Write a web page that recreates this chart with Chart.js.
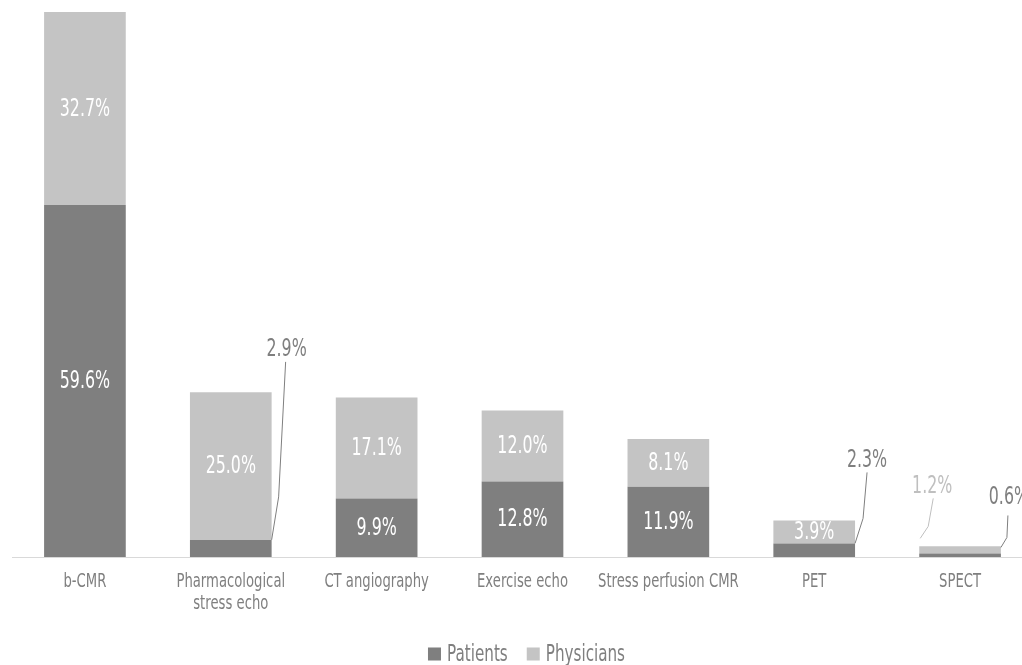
<!DOCTYPE html>
<html>
<head>
<meta charset="utf-8">
<script src="https://cdn.jsdelivr.net/npm/chart.js@4"></script>
<style>
  html, body { margin: 0; padding: 0; background: #fff; overflow: hidden; }
  #wrap { width: 1040px; height: 665px; }
</style>
</head>
<body>
<div id="wrap"><canvas id="chart"></canvas></div>
<script>
const categories = ['b-CMR', ['Pharmacological', 'stress echo'], 'CT angiography', 'Exercise echo', 'Stress perfusion CMR', 'PET', 'SPECT'];
const patients = [59.6, 2.9, 9.9, 12.8, 11.9, 2.3, 0.6];
const physicians = [32.7, 25.0, 17.1, 12.0, 8.1, 3.9, 1.2];

const FONT = "'DejaVu Sans', sans-serif";
const NARROW = 0.66;   // no condensed face installed, so squeeze text horizontally
const DARK = '#7f7f7f';
const LIGHT = '#c4c4c4';

// labels that sit outside the bar, with a leader line (offsets from the segment's top corner)
const callouts = [
  { ds: 0, i: 1, side: 'right', pts: [[0, 0], [7, -43], [14, -178]], text: [15, -190], color: DARK },
  { ds: 0, i: 5, side: 'right', pts: [[0, 0], [8, -25], [12, -71]], text: [12, -83], color: DARK },
  { ds: 1, i: 6, side: 'left', pts: [[1, -8], [9, -20], [14, -48]], text: [13, -60], color: '#bfbfbf' },
  { ds: 0, i: 6, side: 'right', pts: [[0, -6], [6, -16], [7, -38]], text: [8, -56], color: DARK }
];

const totals = patients.map((p, i) => p + physicians[i]);

function narrowText(ctx, txt, x, y) {
  ctx.save();
  ctx.translate(x, y);
  ctx.scale(NARROW, 1);
  ctx.fillText(txt, 0, 0);
  ctx.restore();
}

const valueLabels = {
  id: 'valueLabels',
  afterDatasetsDraw(chart) {
    const ctx = chart.ctx;
    ctx.save();
    ctx.font = '24px ' + FONT;
    ctx.textAlign = 'center';
    ctx.textBaseline = 'middle';
    chart.data.datasets.forEach((ds, d) => {
      chart.getDatasetMeta(d).data.forEach((bar, i) => {
        const p = bar.getProps(['x', 'y', 'base', 'width'], true);
        const txt = ds.data[i].toFixed(1) + '%';
        const c = callouts.find(o => o.ds === d && o.i === i);
        if (c) {
          const ax = c.side === 'right' ? p.x + p.width / 2 : p.x - p.width / 2;
          const ay = p.y;
          ctx.strokeStyle = c.color;
          ctx.lineWidth = 1;
          ctx.beginPath();
          c.pts.forEach((pt, k) => {
            if (k === 0) ctx.moveTo(ax + pt[0], ay + pt[1]);
            else ctx.lineTo(ax + pt[0], ay + pt[1]);
          });
          ctx.stroke();
          ctx.fillStyle = c.color;
          narrowText(ctx, txt, ax + c.text[0], ay + c.text[1]);
        } else {
          ctx.fillStyle = '#ffffff';
          narrowText(ctx, txt, p.x, (p.y + p.base) / 2 + 1);
        }
      });
    });
    ctx.restore();
  }
};

// category labels and legend, drawn with the squeezed font
const axisAndLegend = {
  id: 'axisAndLegend',
  afterDraw(chart) {
    const ctx = chart.ctx;
    const xs = chart.scales.x;
    const area = chart.chartArea;
    ctx.save();
    ctx.fillStyle = DARK;
    ctx.textAlign = 'center';
    ctx.textBaseline = 'middle';
    ctx.font = '20px ' + FONT;
    chart.data.labels.forEach((lab, i) => {
      const lines = Array.isArray(lab) ? lab : [lab];
      const x = xs.getPixelForValue(i);
      lines.forEach((line, k) => narrowText(ctx, line, x, area.bottom + 25 + k * 22));
    });

    // legend
    ctx.font = '23px ' + FONT;
    const box = 13, gap = 6, spacing = 19;
    const items = chart.data.datasets.map(ds => ({
      text: ds.label,
      color: ds.backgroundColor,
      w: ctx.measureText(ds.label).width * NARROW
    }));
    const total = items.reduce((s, it) => s + box + gap + it.w, 0) + spacing * (items.length - 1);
    let x = (area.left + area.right) / 2 + 4 - total / 2;
    const y = 654;
    ctx.textAlign = 'left';
    items.forEach(it => {
      ctx.fillStyle = it.color;
      ctx.fillRect(x, y - box / 2, box, box);
      x += box + gap;
      ctx.fillStyle = DARK;
      narrowText(ctx, it.text, x, y + 1);
      x += it.w + spacing;
    });
    ctx.restore();
  }
};

new Chart(document.getElementById('chart'), {
  type: 'bar',
  data: {
    labels: categories,
    datasets: [
      { label: 'Patients', data: patients, backgroundColor: DARK },
      { label: 'Physicians', data: physicians, backgroundColor: LIGHT }
    ]
  },
  options: {
    responsive: true,
    maintainAspectRatio: false,
    animation: false,
    barPercentage: 0.56,
    categoryPercentage: 1,
    layout: { padding: { top: 12, left: 12, right: 7, bottom: 0 } },
    plugins: {
      legend: { display: false },
      tooltip: { enabled: false }
    },
    scales: {
      x: {
        stacked: true,
        grid: { display: false },
        border: { color: '#d9d9d9', width: 1 },
        ticks: { display: false },
        afterFit(scale) { scale.height = 108; }
      },
      y: {
        stacked: true,
        display: false,
        min: 0,
        max: Math.max(...totals)
      }
    }
  },
  plugins: [valueLabels, axisAndLegend]
});
</script>
</body>
</html>
